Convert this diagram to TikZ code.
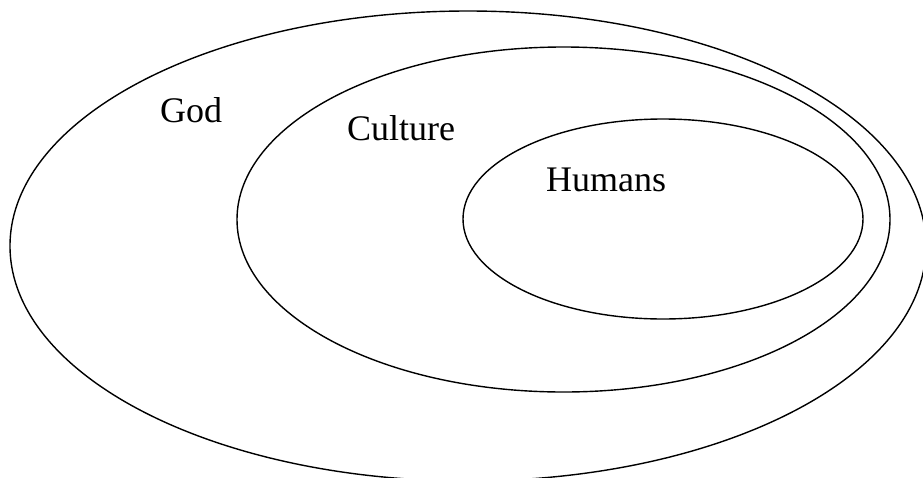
\documentclass[tikz,border=0pt]{standalone}
\usepackage{fontspec}
\setmainfont{Liberation Serif}
\begin{document}
\begin{tikzpicture}[x=1pt,y=-1pt,
  ring/.style={draw=black,line width=1.4pt},
  lbl/.style={anchor=base west,inner sep=0pt,font=\fontsize{36}{40}\selectfont}]
\useasboundingbox (0,0) rectangle (923,477);
\fill[white] (0,0) rectangle (923,477);
\clip (0,0) rectangle (923,477);
\draw[ring] (468,246) ellipse [x radius=458pt, y radius=235pt];
\draw[ring] (563.5,219.5) ellipse [x radius=326.5pt, y radius=172.5pt];
\draw[ring] (663,219) ellipse [x radius=200pt, y radius=100pt];
\node[lbl] (god) at (160,122) {God};
\node[lbl] (culture) at (347,140) {Culture};
\node[lbl] (humans) at (546,191) {Humans};
\end{tikzpicture}
\end{document}
